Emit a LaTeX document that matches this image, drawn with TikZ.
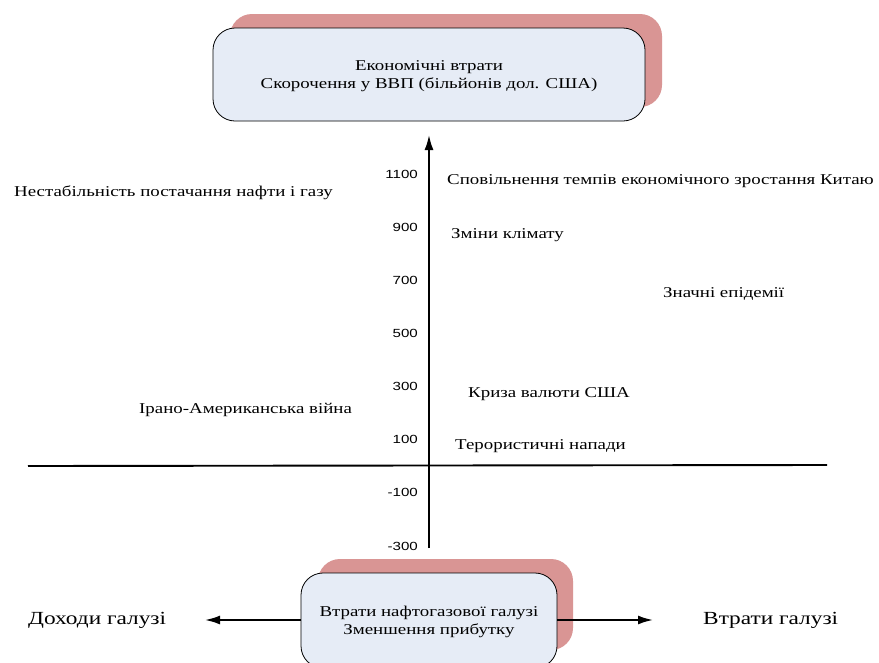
\documentclass[tikz,border=0pt]{standalone}
\usepackage{fontspec}
\setmainfont{Liberation Serif}[FakeStretch=1.26]
\newfontfamily\ticksans{Liberation Sans}[FakeStretch=1.28]
\usetikzlibrary{arrows.meta}
\definecolor{shadowred}{HTML}{D99594}
\definecolor{boxblue}{HTML}{E6ECF6}
\tikzset{
  panel/.style={draw=black, line width=0.8pt, fill=boxblue, rounded corners=22pt},
  panelshadow/.style={fill=shadowred, rounded corners=22pt},
  axis/.style={line width=1.9pt},
  tick/.style={anchor=east, font=\ticksans\fontsize{11.8}{13}\selectfont, inner sep=0pt},
  risk/.style={anchor=west, font=\fontsize{15}{17}\selectfont, inner sep=0pt},
  sidelabel/.style={font=\fontsize{18.5}{21}\selectfont, inner sep=0pt},
  boxtext/.style={align=center, font=\fontsize{15}{18}\selectfont},
  tip/.style={-{Latex[length=15pt,width=9pt]}},
}
\begin{document}
\begin{tikzpicture}[x=1pt,y=-1pt]
\useasboundingbox (0,0) rectangle (879,662);
\clip (0,0) rectangle (879,662);
\fill[white] (0,0) rectangle (879,662);

% top panel: economic losses
\fill[panelshadow] (230,14) rectangle (662,107);
\draw[panel] (213,28) rectangle (645,121);
\node[boxtext] (gdp) at (429,76) {Економічні втрати\\Скорочення у ВВП (більйонів дол. США)};

% bottom panel: oil and gas industry losses
\fill[panelshadow] (318,559) rectangle (573,650);
\draw[panel] (301,573) rectangle (557,668);
\node[boxtext] (oil) at (429,622) {Втрати нафтогазової галузі\\Зменшення прибутку};
\coordinate (oilW) at (301,620);
\coordinate (oilE) at (557,620);

% axes
\coordinate (ybot) at (429,548);
\coordinate (ytop) at (429,135);
\coordinate (xl) at (28,466);
\coordinate (xr) at (827,465);
\draw[axis] (xl) -- (xr);
\draw[axis, tip] (ybot) -- (ytop);

% tick labels
\foreach \v/\y in {1100/174, 900/227, 700/280, 500/333, 300/386, 100/439, -100/492, -300/546}
  \node[tick] (t\v) at (418,\y) {\v};

% side arrows
\node[sidelabel, anchor=west] (income) at (28,620) {Доходи галузі};
\node[sidelabel, anchor=west] (loss) at (703,620) {Втрати галузі};
\coordinate (incomeTip) at (205,620);
\coordinate (lossTip) at (653,620);
\draw[axis, tip] (oilW) -- (incomeTip);
\draw[axis, tip] (oilE) -- (lossTip);

% risk labels
\node[risk] (oilgas) at (14,193) {Нестабільність постачання нафти і газу};
\node[risk] (china) at (447,181) {Сповільнення темпів економічного зростання Китаю};
\node[risk] (climate) at (451,235) {Зміни клімату};
\node[risk] (epid) at (663,294) {Значні епідемії};
\node[risk] (usd) at (468,394) {Криза валюти США};
\node[risk] (war) at (139,410) {Ірано-Американська війна};
\node[risk] (terror) at (455,446) {Терористичні напади};
\end{tikzpicture}
\end{document}
